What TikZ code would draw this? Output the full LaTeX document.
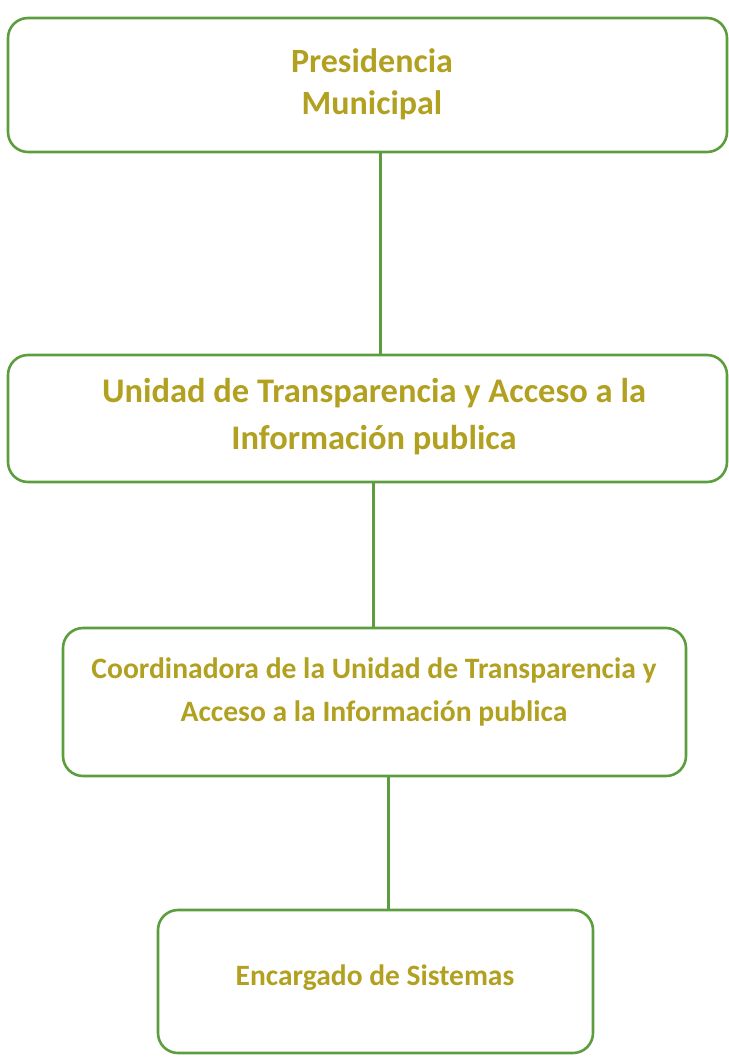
\documentclass[tikz,border=0pt]{standalone}
\usepackage{fontspec}
\setmainfont{Carlito}
\usepackage{tikz}
\usetikzlibrary{positioning}
\definecolor{verde}{RGB}{92,158,62}
\definecolor{oro}{RGB}{178,160,32}

\begin{document}
\begin{tikzpicture}[x=1pt,y=-1pt]
        \useasboundingbox (0,0) rectangle (728,1059);
        \begin{scope}[every node/.style={rectangle,rounded corners=20pt,draw=verde,line width=2.6pt}]
        \node[minimum width=719pt,minimum height=134pt] (pres) at (367.5,85) {};
        \node[minimum width=719pt,minimum height=127pt] (unidad) at (367.5,418.5) {};
        \node[minimum width=623pt,minimum height=148pt] (coord) at (374.5,702) {};
        \node[minimum width=435pt,minimum height=143pt] (sistemas) at (375.5,981.5) {};
        \end{scope}
        \begin{scope}[every node/.style={text=oro,align=center,font=\bfseries}]
        \node[font=\bfseries\fontsize{34}{42}\selectfont] (presT) at (372,84) {Presidencia\\Municipal};
        \node[font=\bfseries\fontsize{34.5}{47}\selectfont] (unidadT) at (374,416.5) {Unidad de Transparencia y Acceso a la\\Información publica};
        \node[font=\bfseries\fontsize{29.6}{43}\selectfont] (coordT) at (374,691.5) {Coordinadora de la Unidad de Transparencia y\\Acceso a la Información publica};
        \node[font=\bfseries\fontsize{29.5}{40}\selectfont] (sistemasT) at (375,978) {Encargado de Sistemas};
        \end{scope}
        \begin{scope}[every edge/.style={draw=verde,line width=2.6pt}]
        \path ([xshift=13pt]pres.south) edge ([xshift=13pt]pres.south |- unidad.north);
        \path ([xshift=6pt]unidad.south) edge ([xshift=6pt]unidad.south |- coord.north);
        \path ([xshift=14pt]coord.south) edge ([xshift=14pt]coord.south |- sistemas.north);
        \end{scope}
\end{tikzpicture}
\end{document}
